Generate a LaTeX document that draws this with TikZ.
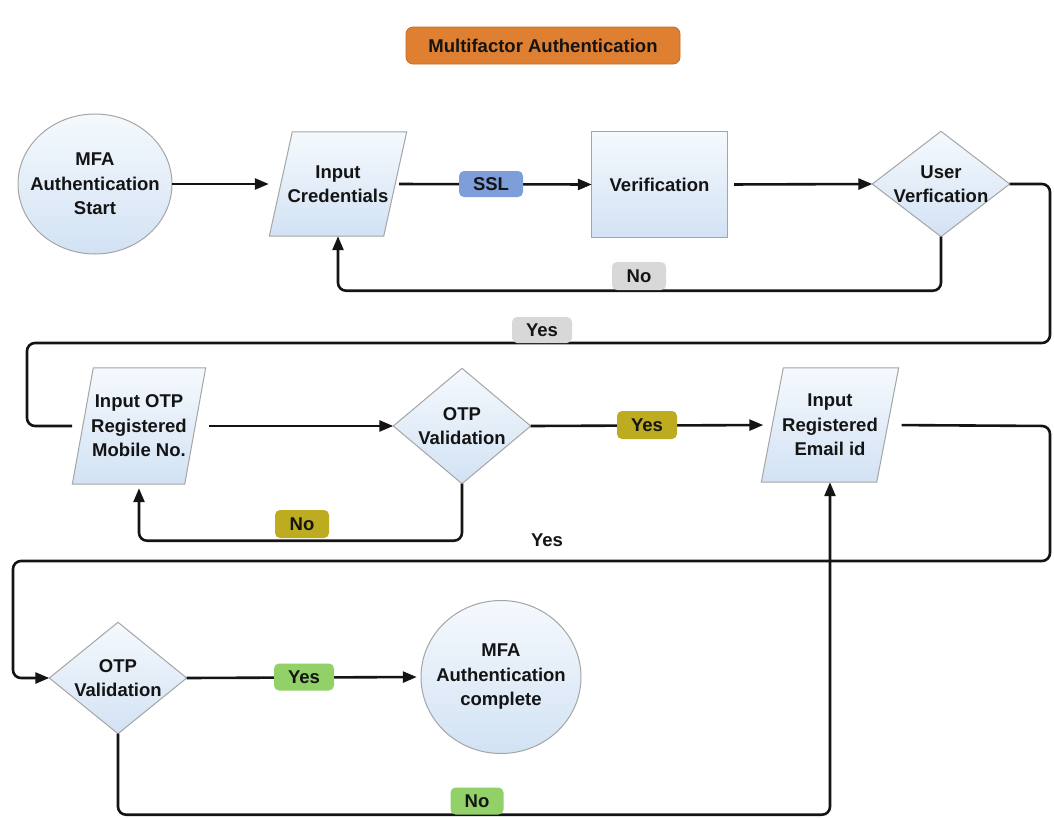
\documentclass[tikz,border=0pt]{standalone}
\usepackage{fontspec}
\setmainfont{Liberation Sans}
\usetikzlibrary{arrows.meta,backgrounds,calc}

\definecolor{shapeedge}{RGB}{165,165,165}
\definecolor{shapetop}{RGB}{245,249,253}
\definecolor{shapebot}{RGB}{210,226,244}
\definecolor{titleorange}{RGB}{222,127,49}
\definecolor{titleedge}{RGB}{196,108,38}
\definecolor{sslblue}{RGB}{126,158,218}
\definecolor{labelgray}{RGB}{216,216,216}
\definecolor{labelolive}{RGB}{190,172,32}
\definecolor{labelgreen}{RGB}{146,208,104}
\definecolor{inkline}{RGB}{20,20,20}

% background outlines for the flowchart symbols
\newcommand\drawdiamond[1]{\path[shapefill] (#1.north) -- (#1.east) -- (#1.south) -- (#1.west) -- cycle;}
\newcommand\drawslanted[2]{\path[shapefill] ($(#1.north west)+(#2,0)$) -- ($(#1.north east)+(#2,0)$) -- ($(#1.south east)+(-#2,0)$) -- ($(#1.south west)+(-#2,0)$) -- cycle;}
\newcommand\drawoval[3]{\path[shapefill] (#1.center) ellipse [x radius=#2, y radius=#3];}

\tikzset{
  txt/.style={font=\bfseries\fontsize{18.5}{24.5}\selectfont, align=center, text=black!92},
  holder/.style={txt, inner sep=0pt, draw=none},
  shapefill/.style={draw=shapeedge, line width=1pt, top color=shapetop, bottom color=shapebot},
  lbl/.style={txt, rounded corners=5pt, inner sep=0pt, minimum height=27pt},
  conn/.style={line width=2.6pt, draw=inkline, rounded corners=8pt},
  arr/.style={conn, -{Triangle[length=14pt,width=11pt]}},
}

\begin{document}
\begin{tikzpicture}[x=1pt,y=-1pt]
\useasboundingbox (0,0) rectangle (1054,817);

% heading
\node[txt, fill=titleorange, draw=titleedge, line width=0.8pt, rounded corners=7pt,
      minimum width=274pt, minimum height=37pt, inner sep=0pt] (title) at (543,45.5) {Multifactor Authentication};

% flowchart symbols (text holders; outlines go on the background layer)
\node[holder, minimum width=154pt, minimum height=140pt] (start) at (95,184) {MFA\\Authentication\\Start};
\node[holder, minimum width=114pt, minimum height=104pt] (cred) at (338,184) {Input\\Credentials};
\node[holder, minimum width=135pt, minimum height=105pt] (verif) at (659.5,184.5) {Verification};
\node[holder, minimum width=137pt, minimum height=105pt] (user) at (941,184) {User\\Verfication};
\node[holder, minimum width=112pt, minimum height=116pt] (otpin) at (139,426) {Input OTP\\Registered\\Mobile No.};
\node[holder, minimum width=137pt, minimum height=115pt] (otpval) at (462,426) {OTP\\Validation};
\node[holder, minimum width=115pt, minimum height=114pt] (email) at (830,425) {Input\\Registered\\Email id};
\node[holder, minimum width=137pt, minimum height=111pt] (otpfinal) at (118,678) {OTP\\Validation};
\node[holder, minimum width=160pt, minimum height=153pt] (done) at (501,677) {MFA\\Authentication\\complete};

\coordinate (otpinlead) at (72,426);

\begin{scope}[on background layer]
  \fill[white] (0,0) rectangle (1054,817);
  \drawoval{start}{77pt}{70pt}
  \drawslanted{cred}{11.5}
  \path[shapefill] (verif.north west) rectangle (verif.south east);
  \drawdiamond{user}
  \drawslanted{otpin}{10.5}
  \drawdiamond{otpval}
  \drawslanted{email}{11}
  \drawdiamond{otpfinal}
  \drawoval{done}{80pt}{76.5pt}
\end{scope}

% connectors
\draw[arr, shorten >=12pt] (start.east) -- (cred.west);
\draw[arr, shorten <=4pt] (cred.east) -- (verif.west);
\draw[arr, shorten <=7pt] (verif.east) -- (user.west);
\draw[conn] (user.east) -- (1050,184) -- (1050,343) -- (27,343) -- (27,426) -- (otpinlead);
\draw[arr] (user.south) -- ++(0,54) -| (cred.south);

\draw[arr, shorten <=14pt] (otpin.east) -- (otpval.west);
\draw[arr, shorten >=9pt] (otpval.east) -- (email.west);
\draw[arr, shorten <=14pt] (email.east) -- (1050,426) -- (1050,561) -- (13,561) -- (13,678) -- (otpfinal.west);
\draw[arr, shorten >=4pt] (otpval.south) -- ++(0,57) -| (otpin.south);

\draw[arr, shorten >=4pt] (otpfinal.east) -- (done.west);
\draw[arr] (otpfinal.south) -- ++(0,81) -| (email.south);

% branch labels
\node[lbl, fill=sslblue, minimum width=64pt, minimum height=26pt] (ssl) at (491,184) {SSL};
\node[lbl, fill=labelgray, minimum width=54pt, minimum height=28pt] (nouser) at (639,276) {No};
\node[lbl, fill=labelgray, minimum width=60pt, minimum height=26pt] (yesuser) at (542,330) {Yes};
\node[lbl, fill=labelolive, minimum width=60pt, minimum height=28pt] (yesotp) at (647,425) {Yes};
\node[lbl, fill=labelolive, minimum width=54pt, minimum height=28pt] (nootp) at (302,524) {No};
\node[txt] (yesemail) at (547,540) {Yes};
\node[lbl, fill=labelgreen, minimum width=60pt] (yesfinal) at (304,677) {Yes};
\node[lbl, fill=labelgreen, minimum width=53pt] (nofinal) at (477,801) {No};
\end{tikzpicture}
\end{document}
